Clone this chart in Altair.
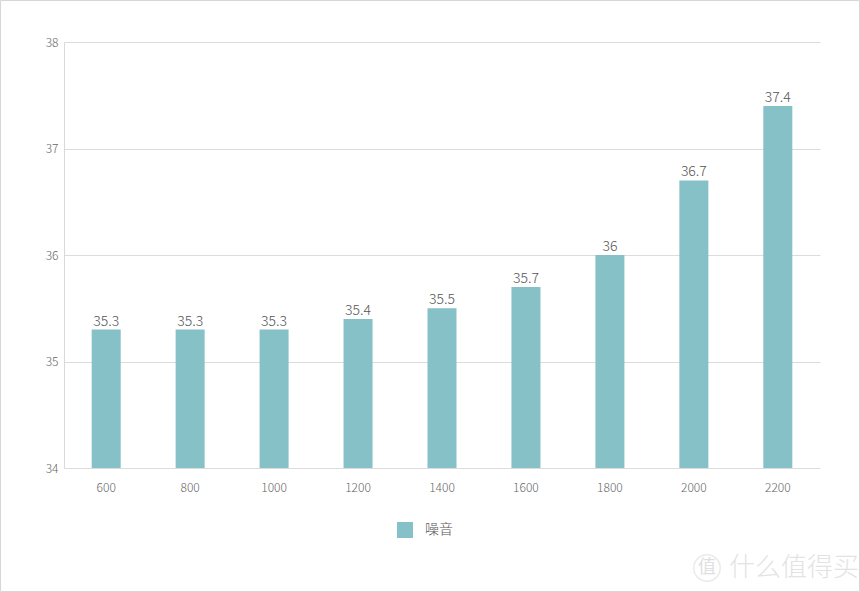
import altair as alt
import pandas as pd

categories = ["600", "800", "1000", "1200", "1400", "1600", "1800", "2000", "2200"]
noise = [35.3, 35.3, 35.3, 35.4, 35.5, 35.7, 36.0, 36.7, 37.4]
labels = ["35.3", "35.3", "35.3", "35.4", "35.5", "35.7", "36", "36.7", "37.4"]
series = ["噪音"] * len(categories)
y_ticks = [34, 35, 36, 37, 38]
y_base = 34

df = pd.DataFrame({"cat": categories, "v": noise, "lab": labels, "s": series})

W, H = 756, 426
FONT = "Noto Sans CJK SC"
BAR = "#85c1c7"
TXT = "#666666"

x_enc = alt.X("cat:N", sort=categories, title=None,
              scale=alt.Scale(paddingInner=0.655, paddingOuter=0.33),
              axis=alt.Axis(labelAngle=0, ticks=False, domain=False, labelPadding=14,
                            labelFont=FONT, labelFontSize=12, labelFontWeight=300,
                            labelColor=TXT))
y_enc = alt.Y("v:Q", title=None,
              scale=alt.Scale(domain=[34, 38], nice=False, zero=False),
              axis=alt.Axis(values=y_ticks, ticks=False, domain=True, domainColor="#d9d9d9",
                            gridColor="#dcdcdc", labelPadding=6, format="d",
                            labelFont=FONT, labelFontSize=12, labelFontWeight=300,
                            labelColor=TXT))

bars = alt.Chart(df).mark_bar(size=29).encode(
    x=x_enc, y=y_enc, y2=alt.datum(y_base),
    color=alt.Color("s:N", scale=alt.Scale(range=[BAR]), title=None,
                    legend=alt.Legend(orient="none", legendX=333, legendY=480,
                                      symbolType="square", symbolSize=256,
                                      symbolStrokeWidth=0, labelFont=FONT,
                                      labelFontSize=14, labelFontWeight=300,
                                      labelColor="#555", labelOffset=12)),
)

texts = alt.Chart(df).mark_text(baseline="bottom", dy=-1, font=FONT, fontSize=14,
                                fontWeight=300, color="#555").encode(
    x=alt.X("cat:N", sort=categories), y=alt.Y("v:Q"), text="lab:N")

one = df.head(1)
border = "#d6d6d6"
frame = [
    alt.Chart(one).mark_rule(color=border).encode(
        x=alt.value(-63.5), x2=alt.value(W + 39.5), y=alt.value(-41.5)),
    alt.Chart(one).mark_rule(color=border).encode(
        x=alt.value(-63.5), x2=alt.value(W + 39.5), y=alt.value(H + 123.5)),
    alt.Chart(one).mark_rule(color=border).encode(
        x=alt.value(-63.5), y=alt.value(-41.5), y2=alt.value(H + 123.5)),
    alt.Chart(one).mark_rule(color=border).encode(
        x=alt.value(W + 39.5), y=alt.value(-41.5), y2=alt.value(H + 123.5)),
]

wm_logo = alt.Chart(one).mark_point(shape="circle", size=700, stroke="#e3e3e3",
                                    strokeWidth=1.5, filled=False).encode(
    x=alt.value(643), y=alt.value(526))
wm_logo_t = alt.Chart(one).mark_text(text="值", font=FONT, fontSize=18,
                                     color="#e0e0e0").encode(
    x=alt.value(643), y=alt.value(526))
wm_text = alt.Chart(one).mark_text(text="什么值得买", font=FONT, fontSize=26,
                                   fontWeight=300, color="#e3e3e3", align="left").encode(
    x=alt.value(665), y=alt.value(526))

chart = alt.layer(bars, texts, *frame, wm_logo, wm_logo_t, wm_text).properties(
    width=W, height=H,
    background="white",
    autosize=alt.AutoSizeParams(type="none"),
    padding={"left": 64, "top": 42, "right": 40, "bottom": 124},
).configure_view(stroke="transparent", strokeWidth=0)

chart.save("out.html", embed_options={"renderer": "svg", "actions": False})
